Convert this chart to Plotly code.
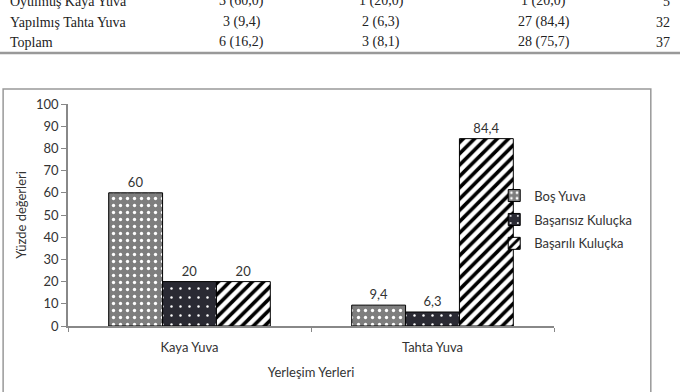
import plotly.graph_objects as go

# ---- chart data ----
categories = ["Kaya Yuva", "Tahta Yuva"]
series_names = ["Boş Yuva", "Başarısız Kuluçka", "Başarılı Kuluçka"]
bos_yuva = [60, 9.4]
basarisiz = [20, 6.3]
basarili = [20, 84.4]

# ---- table fragment above the chart ----
table_labels = ["Oyulmuş Kaya Yuva", "Yapılmış Tahta Yuva", "Toplam"]
table_col1 = ["3 (60,0)", "3 (9,4)", "6 (16,2)"]
table_col2 = ["1 (20,0)", "2 (6,3)", "3 (8,1)"]
table_col3 = ["1 (20,0)", "27 (84,4)", "28 (75,7)"]
table_total = ["5", "32", "37"]

def fmt(v):
    return f"{v:g}".replace(".", ",")

styles = [
    dict(shape=".", fgcolor="white", bgcolor="#7e7e7e", size=7, solidity=0.18),
    dict(shape=".", fgcolor="white", bgcolor="#2a2a33", size=9, solidity=0.06),
    dict(shape="/", fgcolor="black", bgcolor="white", size=8, solidity=0.45),
]

CF = "Lato"
fig = go.Figure()
for name, vals, st in zip(series_names, [bos_yuva, basarisiz, basarili], styles):
    fig.add_trace(go.Bar(
        x=categories, y=vals, name=name, legendgroup=name,
        text=[fmt(v) for v in vals], textposition="outside",
        textfont=dict(family=CF, size=13, color="#333"),
        cliponaxis=False,
        marker=dict(color=st["bgcolor"], line=dict(color="black", width=1),
                    pattern=dict(shape=st["shape"], fgcolor=st["fgcolor"],
                                 bgcolor=st["bgcolor"], size=st["size"],
                                 solidity=st["solidity"], fillmode="replace")),
    ))

fig.update_layout(
    width=680, height=392,
    margin=dict(l=68, r=126, t=104, b=66),
    paper_bgcolor="white", plot_bgcolor="white",
    barmode="group", bargap=0.335, bargroupgap=0,
    font=dict(family=CF, size=13, color="#333"),
    showlegend=True,
    legend=dict(x=0.877, y=0.655, xanchor="left", yanchor="top",
                font=dict(family=CF, size=13, color="#333"),
                tracegroupgap=4, itemwidth=30, bgcolor="rgba(0,0,0,0)"),
    xaxis=dict(showline=True, linecolor="#888", linewidth=1.5,
               ticks="outside", ticklen=4, tickcolor="#888", tickson="boundaries",
               ticklabelstandoff=9,
               title=dict(text="Yerleşim Yerleri", standoff=14,
                          font=dict(family=CF, size=13, color="#333")),
               tickfont=dict(family=CF, size=13, color="#333")),
    yaxis=dict(range=[0, 100], dtick=10, showgrid=False, zeroline=False,
               showline=True, linecolor="#888", linewidth=1.5,
               ticks="outside", ticklen=5, tickcolor="#888",
               title=dict(text="Yüzde değerleri", standoff=6,
                          font=dict(family=CF, size=13, color="#333")),
               tickfont=dict(family=CF, size=13, color="#333")),
)

# chart frame
fig.add_shape(type="rect", xref="paper", yref="paper",
              x0=-0.1335, x1=1.1992, y0=-0.34, y1=1.0676,
              line=dict(color="#999", width=1.5), fillcolor="rgba(0,0,0,0)", layer="below")
# table rule
fig.add_shape(type="line", xref="paper", yref="paper",
              x0=-0.15, x1=1.27, y0=1.2297, y1=1.2297,
              line=dict(color="#999", width=2.5))

row_y = [1.462, 1.369, 1.279]
tfont = dict(family="Liberation Serif", size=14, color="#222")
for i, yv in enumerate(row_y):
    fig.add_annotation(text=table_labels[i], x=-0.1232, y=yv, xref="paper", yref="paper",
                       xanchor="left", yanchor="middle", showarrow=False, font=tfont)
    for col, xc in zip([table_col1, table_col2, table_col3], [0.357, 0.645, 0.979]):
        fig.add_annotation(text=col[i], x=xc, y=yv, xref="paper", yref="paper",
                           xanchor="center", yanchor="middle", showarrow=False, font=tfont)
    fig.add_annotation(text=table_total[i], x=1.242, y=yv, xref="paper", yref="paper",
                       xanchor="right", yanchor="middle", showarrow=False, font=tfont)

fig.write_html("out.html")
